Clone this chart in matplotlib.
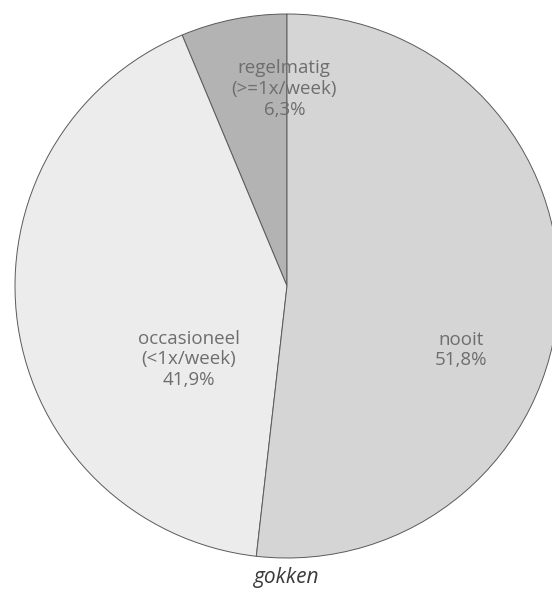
import matplotlib.pyplot as plt

# Data
categories = ['regelmatig\n(>=1x/week)', 'occasioneel\n(<1x/week)', 'nooit']
shares = [6.3, 41.9, 51.8]
colors = ['#b3b3b3', '#ececec', '#d5d5d5']
title = 'gokken'

plt.rcParams['font.family'] = ['Open Sans', 'DejaVu Sans']

fig = plt.figure(figsize=(5.52, 5.91), dpi=100)

# Square axes placed in pixels: centre (287, 286) from top-left, radius 272
cx, cy, r = 287, 286, 272
W, H = 552, 591
ax = fig.add_axes([(cx - r) / W, (H - cy - r) / H, 2 * r / W, 2 * r / H])

wedges, _ = ax.pie(shares, colors=colors, startangle=90, counterclock=True,
                   radius=1, wedgeprops=dict(edgecolor='#5a5a5a', linewidth=0.7))
ax.set_xlim(-1, 1)
ax.set_ylim(-1, 1)
ax.set_aspect('auto')
ax.axis('off')

# Labels inside slices
label_pos = [(-0.01, 0.725), (-0.36, -0.27), (0.64, -0.235)]
for name, val, (x, y) in zip(categories, shares, label_pos):
    txt = name + '\n' + f'{val:.1f}%'.replace('.', ',')
    ax.text(x, y, txt, ha='center', va='center', fontsize=13.5,
            color='#6e6e6e', linespacing=1.2)

fig.text(cx / W, 1 - 577 / H, title, ha='center', va='center',
         fontsize=15, style='italic', color='#3a3a3a')

fig.savefig('out.png', dpi=100, facecolor='white')
